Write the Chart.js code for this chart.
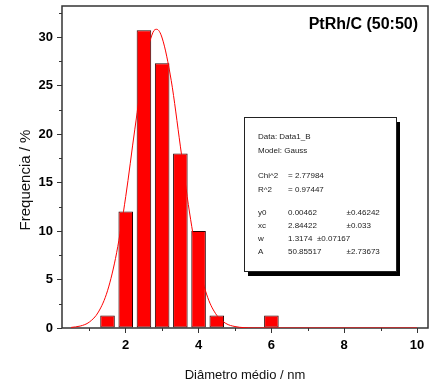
<!DOCTYPE html>
<html>
<head>
<meta charset="utf-8">
<script src="https://cdn.jsdelivr.net/npm/chart.js@4"></script>
<style>
  html, body { margin: 0; padding: 0; background: #fff; }
  #wrap { width: 432px; height: 389px; }
</style>
</head>
<body>
<div id="wrap"><canvas id="histChart" width="432" height="389"></canvas></div>
<script>
// histogram bins (diameter, nm) and frequency (%)
const binCenters = [1.5, 2.0, 2.5, 3.0, 3.5, 4.0, 4.5, 6.0];
const frequencies = [1.3, 12.0, 30.7, 27.3, 18.0, 10.0, 1.3, 1.3];

// gauss fit curve
const fitX = [0.5, 0.75, 1.0, 1.25, 1.5, 1.75, 2.0, 2.25, 2.5, 2.75, 2.85, 3.0, 3.25, 3.5, 3.75, 4.0, 4.25, 4.5, 4.75, 5.0, 5.5, 6.0, 7.0, 8.0, 9.0, 10.0];
const fitY = [0.06, 0.2, 0.61, 1.65, 3.84, 7.76, 13.55, 20.5, 26.9, 30.5, 30.8, 29.9, 25.5, 18.75, 11.96, 6.6, 3.16, 1.31, 0.47, 0.15, 0.01, 0.0, 0.0, 0.0, 0.0, 0.0];

// axis ticks
const xTicks = [2, 4, 6, 8, 10];
const xMinorTicks = [1, 3, 5, 7, 9];
const yTicks = [0, 5, 10, 15, 20, 25, 30];
const yMinorTicks = [2.5, 7.5, 12.5, 17.5, 22.5, 27.5, 32.5];

// fit report text
const fitHeader = ['Data: Data1_B', 'Model: Gauss'];
const fitStats = [['Chi^2', '= 2.77984'], ['R^2', '= 0.97447']];
const fitParams = [
  ['y0', '0.00462', '\u00b10.46242'],
  ['xc', '2.84422', '\u00b10.033'],
  ['w', '1.3174  \u00b10.07167', ''],
  ['A', '50.85517', '\u00b12.73673']
];

const FONT = '"Liberation Sans", Arial, sans-serif';
const AXIS_COLOR = '#333';

// frame, minor ticks, y title, plot title and the fit box
const decorations = {
  id: 'decorations',
  beforeDatasetsDraw(chart) {
    const {ctx, chartArea: a, scales} = chart;
    ctx.save();
    ctx.strokeStyle = AXIS_COLOR;
    ctx.lineWidth = 1.5;
    ctx.strokeRect(a.left, a.top, a.right - a.left, a.bottom - a.top);
    // minor ticks
    ctx.lineWidth = 1;
    ctx.beginPath();
    xMinorTicks.forEach(v => {
      const px = Math.round(scales.x.getPixelForValue(v)) + 0.5;
      ctx.moveTo(px, a.bottom);
      ctx.lineTo(px, a.bottom + 3);
    });
    yMinorTicks.forEach(v => {
      const py = Math.round(scales.y.getPixelForValue(v)) + 0.5;
      ctx.moveTo(a.left, py);
      ctx.lineTo(a.left - 3, py);
    });
    ctx.stroke();
    ctx.restore();
  },
  afterDraw(chart) {
    const {ctx, chartArea: a} = chart;
    ctx.save();

    // y axis title
    ctx.fillStyle = '#111';
    ctx.font = '15px ' + FONT;
    ctx.textAlign = 'center';
    ctx.textBaseline = 'middle';
    ctx.translate(25.5, 180);
    ctx.rotate(-Math.PI / 2);
    ctx.fillText('Frequencia / %', 0, 0);
    ctx.setTransform(1, 0, 0, 1, 0, 0);

    // plot title
    ctx.font = 'bold 16px ' + FONT;
    ctx.textAlign = 'right';
    ctx.fillStyle = '#000';
    ctx.fillText('PtRh/C (50:50)', a.right - 10, a.top + 19);

    // fit box with shadow
    const bx = a.left + 182, by = a.top + 111, bw = 152, bh = 154;
    ctx.fillStyle = '#000';
    ctx.fillRect(bx + 4, by + 5, bw, bh);
    ctx.fillStyle = '#fff';
    ctx.fillRect(bx, by, bw, bh);
    ctx.strokeStyle = '#222';
    ctx.lineWidth = 1;
    ctx.strokeRect(bx + 0.5, by + 0.5, bw, bh);

    ctx.font = '8px ' + FONT;
    ctx.fillStyle = '#222';
    ctx.textAlign = 'left';
    ctx.textBaseline = 'middle';
    const c1 = bx + 14, c2 = bx + 44, c3 = bx + 102.5;
    fitHeader.forEach((t, i) => ctx.fillText(t, c1, by + 20 + i * 14));
    fitStats.forEach((r, i) => {
      ctx.fillText(r[0], c1, by + 59 + i * 13.5);
      ctx.fillText(r[1], c2, by + 59 + i * 13.5);
    });
    fitParams.forEach((r, i) => {
      const y = by + 96 + i * 13;
      ctx.fillText(r[0], c1, y);
      ctx.fillText(r[1], c2, y);
      if (r[2]) ctx.fillText(r[2], c3, y);
    });
    ctx.restore();
  }
};

const ctx = document.getElementById('histChart').getContext('2d');

const histChart = new Chart(ctx, {
  type: 'bar',
  data: {
    datasets: [
      {
        type: 'line',
        label: 'Gauss fit',
        data: fitX.map((x, i) => ({x: x, y: fitY[i]})),
        borderColor: '#ff0000',
        borderWidth: 1,
        pointRadius: 0,
        cubicInterpolationMode: 'monotone',
        order: 0
      },
      {
        type: 'bar',
        label: 'Frequencia',
        data: binCenters.map((x, i) => ({x: x, y: frequencies[i]})),
        backgroundColor: '#ff0000',
        borderColor: '#2a0000',
        borderWidth: 1,
        borderSkipped: false,
        barPercentage: 0.8,
        categoryPercentage: 1,
        order: 1
      }
    ]
  },
  options: {
    responsive: false,
    animation: false,
    layout: { padding: { left: 0, right: 4, top: 6, bottom: 0 } },
    plugins: {
      legend: { display: false },
      tooltip: { enabled: false }
    },
    scales: {
      x: {
        type: 'linear',
        offset: false,
        min: 0.25,
        max: 10.3,
        afterBuildTicks: s => { s.ticks = xTicks.map(v => ({value: v})); },
        afterFit: s => { s.height = 61; s.paddingLeft = 0; s.paddingRight = 0; },
        grid: { drawOnChartArea: false, tickLength: 5, color: AXIS_COLOR, tickWidth: 1, offset: false },
        border: { display: false },
        ticks: {
          padding: 5,
          color: '#000',
          font: { family: FONT, size: 13, weight: 'bold' },
          maxRotation: 0
        },
        title: {
          display: true,
          text: 'Di\u00e2metro m\u00e9dio / nm',
          color: '#111',
          font: { family: FONT, size: 13 },
          padding: { top: 0, bottom: 6 }
        }
      },
      y: {
        type: 'linear',
        min: 0,
        max: 33.2,
        afterBuildTicks: s => { s.ticks = yTicks.map(v => ({value: v})); },
        afterFit: s => { s.width = 62; s.paddingTop = 0; s.paddingBottom = 0; },
        grid: { drawOnChartArea: false, tickLength: 5, color: AXIS_COLOR, tickWidth: 1 },
        border: { display: false },
        ticks: {
          padding: 4,
          color: '#000',
          font: { family: FONT, size: 13, weight: 'bold' }
        }
      }
    }
  },
  plugins: [decorations]
});
</script>
</body>
</html>
